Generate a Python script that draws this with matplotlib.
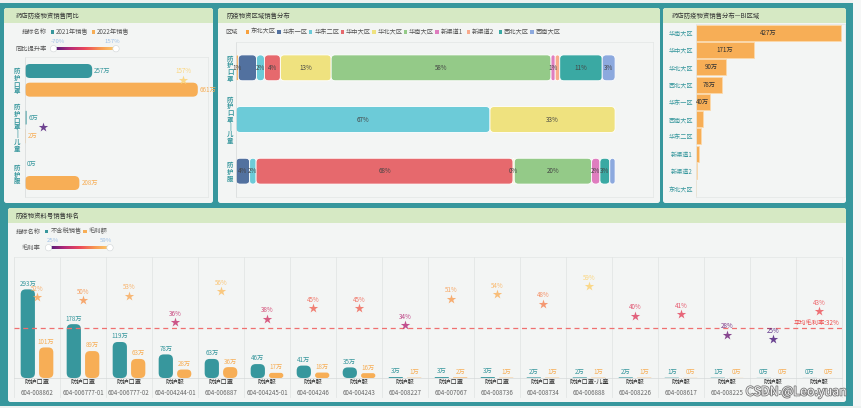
import numpy as np
import matplotlib.pyplot as plt
import matplotlib.patheffects as pe
from matplotlib.patches import FancyBboxPatch, Rectangle, Circle
from matplotlib.colors import LinearSegmentedColormap, Normalize

plt.rcParams['font.family'] = ['Noto Sans CJK SC', 'DejaVu Sans']

# ---- data: 同比 ----
yoy_items = ["防护口罩", "防护口罩-儿童", "防护服"]
sales_2021 = [257, 6, 0]
sales_2022 = [661, 2, 208]
yoy_rate = [157, -67, np.nan]
yoy_rate_text = ["157%", "", ""]
yoy_range = [-70, 157]

# ---- data: 区域分布 (%) ----
regions = ["东北大区", "华东一区", "华东二区", "华中大区", "华北大区",
           "华南大区", "新渠道1", "新渠道2", "西北大区", "西南大区"]
dist_items = ["防护口罩", "防护口罩-儿童", "防护服"]
share_mask = [0.6, 4.8, 2.1, 4.2, 13.4, 58.0, 1.1, 1.2, 11.2, 3.4]
share_mask_kid = [0, 0, 67, 0, 33, 0, 0, 0, 0, 0]
share_suit = [0, 3.6, 1.7, 67.8, 0.3, 20.4, 2.2, 0, 2.6, 1.4]
# labels the chart hides because they collide
hidden_labels = {(0, "华东一区"), (0, "新渠道2"), (2, "西南大区")}

# ---- data: BI区域 ----
bi_regions = ["华南大区", "华中大区", "华北大区", "西北大区", "华东一区",
              "西南大区", "华东二区", "新渠道1", "新渠道2", "东北大区"]
bi_sales = [427, 171, 90, 78, 40, 21, 16, 9, 4, 1]

# ---- data: 料号排名 ----
codes = ["604-008862", "604-006777-01", "604-006777-02", "604-004244-01",
         "604-006887", "604-004245-01", "604-004246", "604-004243",
         "604-008227", "604-007067", "604-008736", "604-008734",
         "604-006888", "604-008226", "604-008617", "604-008225",
         "604-008228", "604-008229"]
names = ["防护口罩", "防护口罩", "防护口罩", "防护服", "防护口罩", "防护服",
         "防护服", "防护服", "防护服", "防护口罩", "防护口罩", "防护口罩",
         "防护口罩-儿童", "防护服", "防护服", "防护服", "防护服", "防护服"]
net_sales = [293, 178, 119, 78, 63, 46, 41, 35, 3, 3, 3, 2, 2, 2, 1, 1, 0.4, 0.3]
gross_profit = [101, 89, 63, 28, 36, 17, 18, 16, 1, 2, 1, 1, 1, 1, 0.4, 0.3, 0.1, 0.1]
margin = [52, 50, 53, 36, 56, 38, 45, 45, 34, 51, 54, 48, 59, 40, 41, 28, 25, 43]
margin_range = [25, 59]
avg_margin = 32

# ---- styles ----
TEAL = "#37979d"
ORANGE = "#f7ae56"
PANEL = "#f3f5f4"
HEADER = "#d6e9c4"
GRID = "#e3e6e5"
region_colors = ["#f7a13e", "#52719f", "#6ccbd8", "#e6696d", "#efe27f",
                 "#94ca88", "#df7dbf", "#f9aa8c", "#3aa9a3", "#8ca9de"]
vm_cmap = LinearSegmentedColormap.from_list(
    "vm", ["#4b1a7a", "#b42a78", "#ec4a5b", "#f89b52", "#fcd272"])
STAR_ALPHA = 0.82

W, H = 861, 408
fig = plt.figure(figsize=(W / 100, H / 100), dpi=100)
fig.patch.set_facecolor(TEAL)


def px_axes(x0, y0, x1, y1):
    ax = fig.add_axes([x0 / W, 1 - y1 / H, (x1 - x0) / W, (y1 - y0) / H])
    ax.set_facecolor("none")
    return ax


bg = px_axes(0, 0, W, H)
bg.set_zorder(-10)
bg.axis("off")

bg.add_patch(Rectangle((0, 0), W, 3, fc="#eef1f0"))
bg.add_patch(Rectangle((853, 0), 8, H, fc="#f6f7f7"))
bg.add_patch(Rectangle((0, 405.5), W, 3, fc="#eef1f0"))


def panel(x0, y0, x1, y1, title, tx):
    bg.add_patch(FancyBboxPatch((x0, y0), x1 - x0, y1 - y0,
                                boxstyle="round,pad=0,rounding_size=2.5", fc=PANEL, ec="none"))
    bg.add_patch(FancyBboxPatch((x0, y0), x1 - x0, 15,
                                boxstyle="round,pad=0,rounding_size=2.5", fc=HEADER, ec="none"))
    bg.add_patch(Rectangle((x0, y0 + 8), x1 - x0, 7, fc=HEADER, ec="none"))
    bg.text(x0 + tx, y0 + 7.6, title, fontsize=4.6, color="#333", va="center")


def legend_row(x, y, label, items):
    bg.text(x, y, label, fontsize=4.5, color="#555", va="center")
    for color, text, xs in items:
        bg.add_patch(Rectangle((xs, y - 1.7), 3.4, 3.4, fc=color, ec="none"))
        bg.text(xs + 5.3, y, text, fontsize=4.5, color="#555", va="center")


def vmap(lx, y, label, x0, x1, lo, hi):
    bg.text(lx, y, label, fontsize=4.5, color="#555", va="center")
    grad = np.linspace(0, 1, 256)[None, :]
    bg.imshow(grad, cmap=vm_cmap, extent=(x0, x1, y + 1.3, y - 1.3), aspect="auto", zorder=3)
    for xx in (x0, x1):
        bg.add_patch(Circle((xx, y), 3.2, fc="white", ec="#d0d5d6", lw=0.4, zorder=4))
    bg.text(x0 + 4.5, y - 7.5, lo, fontsize=4.3, color="#9cbfe6", ha="center", va="center")
    bg.text(x1 - 4, y - 7.5, hi, fontsize=4.3, color="#9cbfe6", ha="center", va="center")


def rounded(ax, bars, r_px, ec="none", lw=0):
    pos = ax.get_position()
    wpx, hpx = pos.width * W, pos.height * H
    xa, xb = ax.get_xlim()
    ya, yb = ax.get_ylim()
    sx, sy = abs(xb - xa) / wpx, abs(yb - ya) / hpx
    for b in bars:
        x, y, w, h = b.get_x(), b.get_y(), b.get_width(), b.get_height()
        b.set_visible(False)
        if w <= 0 or h <= 0:
            continue
        r = min(r_px, w / sx / 2, h / sy / 2)
        ax.add_patch(FancyBboxPatch((x, y), w, h,
                                    boxstyle=f"round,pad=0,rounding_size={r * sx}",
                                    mutation_aspect=sy / sx, fc=b.get_facecolor(),
                                    ec=ec, lw=lw, zorder=2))


def light_spines(ax):
    for s in ax.spines.values():
        s.set_color(GRID)
        s.set_linewidth(0.5)


def vertical_labels(ax, labels, pad):
    ax.set_yticks(range(len(labels)))
    ax.set_yticklabels(["\n".join(s.replace("-", "|")) for s in labels])
    ax.tick_params(axis="y", length=0, pad=pad, labelsize=4.6, labelcolor=TEAL)
    for t in ax.get_yticklabels():
        t.set_fontweight("bold")
        t.set_linespacing(0.95)
        t.set_ha("center")


# ---------- panels ----------
panel(4, 8, 213, 203, "药店防疫物资销售同比", 11.5)
panel(218, 8, 660, 203, "防疫物资区域销售分布", 8.7)
panel(663, 8, 846, 203, "药店防疫物资销售分布—BI区域", 8.7)
panel(8, 208, 846, 402, "防疫物资料号销售排名", 8)

# ---------- panel 1 ----------
legend_row(21.7, 32, "指标名称", [(TEAL, "2021年销售", 50.7), (ORANGE, "2022年销售", 91.7)])
vmap(15, 48.7, "同比提升率", 53.5, 116, f"{yoy_range[0]}%", f"{yoy_range[1]}%")

ax1 = px_axes(25, 57, 208, 197)
y = np.arange(len(yoy_items))
b21 = ax1.barh(y - 0.2, sales_2021, height=0.3, color=TEAL)
b22 = ax1.barh(y + 0.2, sales_2022, height=0.3, color=ORANGE)
ax1.set_xlim(0, 700)
ax1.set_ylim(2.5, -0.5)
rounded(ax1, b21, 5)
rounded(ax1, b22, 5)
for yi, v in zip(y, sales_2021):
    ax1.annotate(f"{v}万", (v, yi - 0.2), xytext=(1.5, 0), textcoords="offset points",
                 fontsize=4.5, color=TEAL, va="center")
for yi, v in zip(y, sales_2022):
    ax1.annotate(f"{v}万", (v, yi + 0.2), xytext=(1.5, 0), textcoords="offset points",
                 fontsize=4.5, color=ORANGE, va="center")
ax1.set_xticks([])
vertical_labels(ax1, yoy_items, 5.8)
light_spines(ax1)
ax1.spines["left"].set_color("#d5d9d9")

norm1 = Normalize(*yoy_range)
ax1s = ax1.twiny()
ax1s.set_xlim(-96, 197)
ax1s.axis("off")
for yi, v, txt in zip(y, yoy_rate, yoy_rate_text):
    if np.isnan(v):
        continue
    c = vm_cmap(norm1(v))
    ax1s.scatter(v, yi, marker="*", s=50, color=c, alpha=STAR_ALPHA, lw=0, zorder=5)
    ax1s.annotate(txt, (v, yi), xytext=(0, 6.7), textcoords="offset points",
                  fontsize=4.5, color=c, alpha=0.9, ha="center", va="center")

# ---------- panel 2 ----------
bg.text(225, 32, "区域", fontsize=4.5, color="#555", va="center")
for i, (reg, col) in enumerate(zip(regions, region_colors)):
    xs = 245.7 + i * 31.6
    bg.add_patch(Rectangle((xs, 30.3), 3.4, 3.4, fc=col, ec="none"))
    bg.text(xs + 5.3, 32, reg, fontsize=4.5, color="#555", va="center")

ax2 = px_axes(236, 42, 653, 197)
shares = np.array([share_mask, share_mask_kid, share_suit], dtype=float)
shares = shares / shares.sum(axis=1, keepdims=True) * 100
lefts = np.cumsum(shares, axis=1) - shares
rows = np.arange(len(dist_items))
ax2.set_xlim(0, 110)
ax2.set_ylim(2.5, -0.5)
for j, (reg, col) in enumerate(zip(regions, region_colors)):
    bars = ax2.barh(rows, shares[:, j], left=lefts[:, j], height=0.5, color=col)
    rounded(ax2, bars, 4, ec="white", lw=0.6)
    for r in rows:
        if shares[r, j] > 0 and (r, reg) not in hidden_labels:
            ax2.text(lefts[r, j] + shares[r, j] / 2, r, f"{shares[r, j]:.0f}%",
                     fontsize=4.5, color="#444", ha="center", va="center", zorder=4)
ax2.set_xticks([])
vertical_labels(ax2, dist_items, 4.3)
light_spines(ax2)
ax2.spines["left"].set_color("#d5d9d9")

# ---------- panel 3 ----------
ax3 = px_axes(696, 24, 845, 197)
ax3.barh(range(len(bi_regions)), bi_sales, height=0.92, color=ORANGE,
         edgecolor="#fbd9ab", linewidth=0.6)
ax3.set_xlim(0, 440)
ax3.set_ylim(len(bi_regions) - 0.5, -0.5)
for i, v in enumerate(bi_sales):
    if v >= 40:
        ax3.text(v / 2, i, f"{v}万", fontsize=4.5, color="#333", ha="center", va="center")
ax3.set_xticks([])
ax3.set_yticks(range(len(bi_regions)))
ax3.set_yticklabels(bi_regions)
ax3.tick_params(axis="y", length=0, pad=2.2, labelsize=4.4, labelcolor=TEAL)
light_spines(ax3)

# ---------- panel 4 ----------
legend_row(16, 231.7, "指标名称", [(TEAL, "不含税销售", 45), (ORANGE, "毛利额", 83.3)])
vmap(22, 247.7, "毛利率", 48.5, 110, f"{margin_range[0]}%", f"{margin_range[1]}%")

ax4 = px_axes(14, 257, 842, 378)
x = np.arange(len(codes))
bn = ax4.bar(x - 0.2, net_sales, width=0.31, color=TEAL)
bp = ax4.bar(x + 0.2, gross_profit, width=0.31, color=ORANGE)
ax4.set_xlim(-0.5, len(codes) - 0.5)
ax4.set_ylim(0, 400)
rounded(ax4, bn, 5)
rounded(ax4, bp, 5)
for xi, v in zip(x, net_sales):
    ax4.annotate(f"{v:.0f}万", (xi - 0.2, v), xytext=(0, 1.2), textcoords="offset points",
                 fontsize=4.5, color=TEAL, ha="center", va="bottom")
for xi, v in zip(x, gross_profit):
    ax4.annotate(f"{v:.0f}万", (xi + 0.2, v), xytext=(0, 1.2), textcoords="offset points",
                 fontsize=4.5, color=ORANGE, ha="center", va="bottom")
ax4.set_xticks([])
ax4.set_yticks([])
light_spines(ax4)
ax4.spines["bottom"].set_color("#d5d9d9")
xt = ax4.get_xaxis_transform()
for b in np.arange(-0.5, len(codes)):
    ax4.plot([b, b], [1, -0.157], transform=xt, color=GRID, lw=0.6, clip_on=False, zorder=0)
for xi, nm, cd in zip(x, names, codes):
    ax4.text(xi, -0.035, nm, transform=xt, fontsize=4.5, color="#333", ha="center", va="center")
    ax4.text(xi, -0.125, cd, transform=xt, fontsize=4.4, color="#666", ha="center", va="center")

norm4 = Normalize(*margin_range)
ax4s = ax4.twinx()
ax4s.set_ylim(0, 78)
ax4s.axis("off")
ax4s.axhline(avg_margin, color="#f07070", lw=0.9, ls=(0, (4, 3)), zorder=3)
ax4s.text(0.997, avg_margin + 0.8, f"平均毛利率:{avg_margin}%", transform=ax4s.get_yaxis_transform(),
          fontsize=4.5, color="#ee4646", ha="right", va="bottom")
for xi, v in zip(x, margin):
    c = vm_cmap(norm4(v))
    ax4s.scatter(xi, v, marker="*", s=50, color=c, alpha=STAR_ALPHA, lw=0, zorder=5)
    ax4s.annotate(f"{v}%", (xi, v), xytext=(0, 6.2), textcoords="offset points",
                  fontsize=4.5, color=c, alpha=0.9, ha="center", va="center")

# watermark
bg.set_xlim(0, W)
bg.set_ylim(H, 0)
fig.text(796 / W, 1 - 392 / H, "CSDN @Leo.yuan", fontsize=9, color="#f2f2f2",
         ha="center", va="center",
         path_effects=[pe.withStroke(linewidth=1.2, foreground="#7a7a7a")])

fig.savefig("out.png", dpi=100, facecolor=fig.get_facecolor())
